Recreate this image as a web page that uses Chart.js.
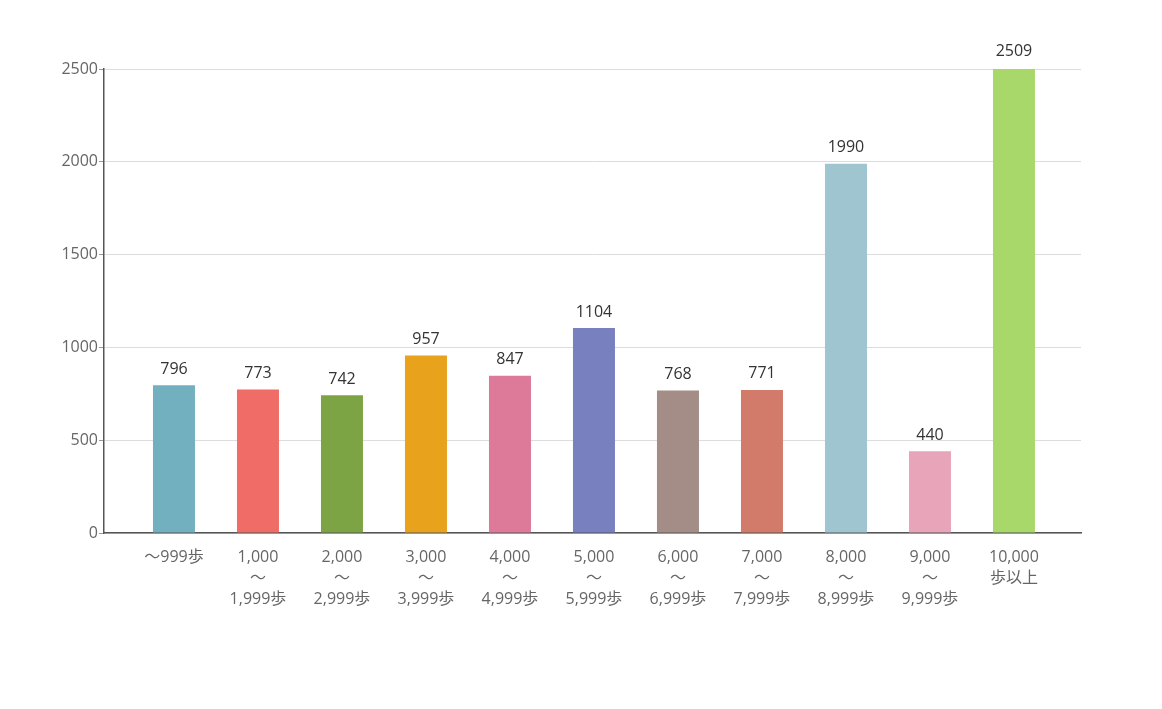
<!DOCTYPE html>
<html>
<head>
<meta charset="utf-8">
<script src="https://cdn.jsdelivr.net/npm/chart.js@4/dist/chart.umd.min.js"></script>
<style>
html,body{margin:0;padding:0;background:#fff;}
#wrap{width:1162px;height:709px;}
</style>
</head>
<body>
<div id="wrap"><canvas id="c" width="1162" height="709"></canvas></div>
<script>
const categories = [
  "～999歩",
  ["1,000","～","1,999歩"],
  ["2,000","～","2,999歩"],
  ["3,000","～","3,999歩"],
  ["4,000","～","4,999歩"],
  ["5,000","～","5,999歩"],
  ["6,000","～","6,999歩"],
  ["7,000","～","7,999歩"],
  ["8,000","～","8,999歩"],
  ["9,000","～","9,999歩"],
  ["10,000","歩以上"]
];
const values = [796, 773, 742, 957, 847, 1104, 768, 771, 1990, 440, 2509];
const barColors = ["#72b0c0","#f06c66","#7ca445","#e8a21c","#dd7a9a","#7880c0","#a38d86","#d27b6a","#9ec5d0","#e8a4b8","#a8d86a"];
const yTicks = [0, 500, 1000, 1500, 2000, 2500];

const FONT = "'Open Sans', 'Noto Sans CJK JP', sans-serif";

const valueLabels = {
  id: 'valueLabels',
  afterDatasetsDraw(chart) {
    const ctx = chart.ctx;
    const meta = chart.getDatasetMeta(0);
    ctx.save();
    ctx.font = "16px " + FONT;
    ctx.fillStyle = "#333";
    ctx.textAlign = "center";
    ctx.textBaseline = "middle";
    meta.data.forEach((bar, i) => {
      ctx.fillText(String(values[i]), bar.x, bar.y - 16);
    });
    ctx.restore();
  }
};

new Chart(document.getElementById('c'), {
  type: 'bar',
  data: {
    datasets: [{
      data: values.map((v, i) => ({ x: i, y: v })),
      backgroundColor: barColors,
      borderWidth: 0,
      barPercentage: 0.5,
      categoryPercentage: 1.0
    }]
  },
  options: {
    responsive: false,
    animation: false,
    layout: { padding: { left: 30, right: 81, top: 69, bottom: 0 } },
    plugins: { legend: { display: false }, tooltip: { enabled: false } },
    scales: {
      x: {
        type: 'linear',
        min: -0.833,
        max: 10.798,
        offset: false,
        afterFit(axis) { axis.height = 176; },
        afterBuildTicks(axis) { axis.ticks = categories.map((c, i) => ({ value: i })); },
        grid: { display: false, drawTicks: false },
        border: { display: true, color: "#555", width: 1.5 },
        ticks: {
          color: "#666",
          font: { family: FONT, size: 16, lineHeight: 1.3 },
          padding: 14,
          maxRotation: 0,
          autoSkip: false,
          callback: (v) => categories[v]
        }
      },
      y: {
        min: 0,
        max: 2500,
        afterFit(axis) { axis.width = 74; },
        afterBuildTicks(axis) { axis.ticks = yTicks.map(v => ({ value: v })); },
        grid: { color: "#dcdcdc", lineWidth: 1, tickLength: 5, tickColor: "#999" },
        border: { display: true, color: "#555", width: 1.5 },
        ticks: {
          color: "#666",
          font: { family: FONT, size: 16 },
          padding: 1,
          callback: (v) => String(v)
        }
      }
    }
  },
  plugins: [valueLabels]
});
</script>
</body>
</html>
